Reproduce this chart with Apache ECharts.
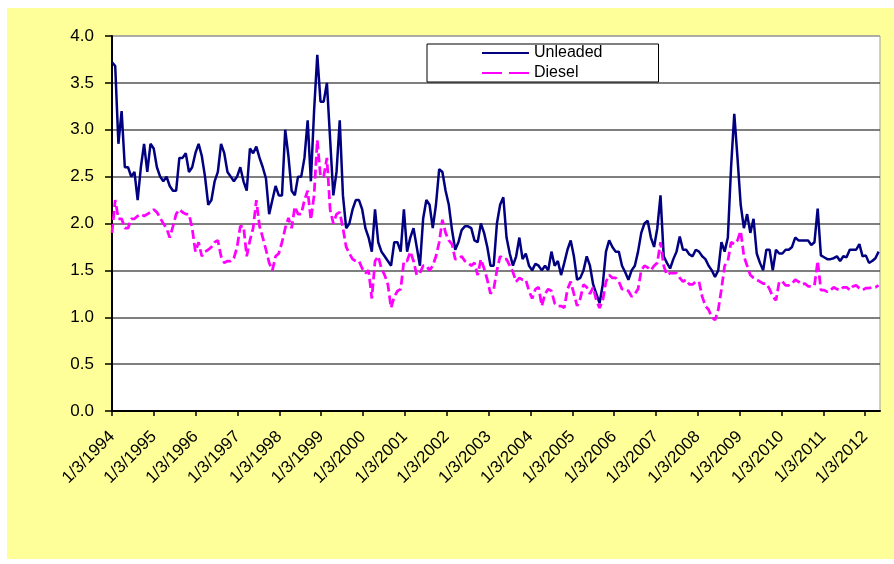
<!DOCTYPE html>
<html>
<head>
<meta charset="utf-8">
<title>Unleaded vs Diesel</title>
<script src="https://cdn.jsdelivr.net/npm/echarts@6/dist/echarts.min.js"></script>
<style>
  html, body { margin: 0; padding: 0; background: #ffffff; }
  #chart { position: absolute; left: 7px; top: 8px; width: 887px; height: 551px; }
</style>
</head>
<body>
<div id="chart"></div>
<script>
// Series start date and sampling step (days between readings)
const startDate = '1/3/1994';
const stepDays = 28;

// Year tick labels along the date axis
const tickLabels = ['1/3/1994','1/3/1995','1/3/1996','1/3/1997','1/3/1998','1/3/1999','1/3/2000',
  '1/3/2001','1/3/2002','1/3/2003','1/3/2004','1/3/2005','1/3/2006','1/3/2007','1/3/2008',
  '1/3/2009','1/3/2010','1/3/2011','1/3/2012'];
const axisEndDate = '5/12/2012';

const unleaded = [
  3.72,3.68,2.85,3.2,2.6,2.6,2.5,2.55,2.25,2.6,
  2.85,2.55,2.85,2.8,2.6,2.5,2.45,2.5,2.4,2.35,
  2.35,2.7,2.7,2.75,2.55,2.6,2.75,2.85,2.72,2.5,
  2.2,2.25,2.45,2.55,2.85,2.75,2.55,2.5,2.45,2.5,
  2.6,2.45,2.35,2.8,2.75,2.82,2.7,2.6,2.48,2.1,
  2.25,2.4,2.3,2.3,3.0,2.72,2.35,2.3,2.5,2.5,
  2.7,3.1,2.45,3.2,3.8,3.3,3.3,3.5,2.9,2.3,
  2.55,3.1,2.3,1.95,2.0,2.15,2.25,2.25,2.15,1.95,
  1.85,1.7,2.15,1.8,1.7,1.65,1.6,1.55,1.8,1.8,
  1.7,2.15,1.7,1.85,1.95,1.75,1.55,2.05,2.25,2.2,
  1.95,2.2,2.58,2.55,2.35,2.2,1.93,1.72,1.8,1.93,
  1.97,1.97,1.95,1.82,1.8,2.0,1.9,1.75,1.55,1.55,
  2.0,2.2,2.28,1.85,1.68,1.55,1.65,1.85,1.62,1.68,
  1.55,1.5,1.57,1.55,1.5,1.55,1.5,1.7,1.55,1.6,
  1.45,1.58,1.72,1.82,1.65,1.4,1.42,1.5,1.65,1.55,
  1.35,1.25,1.15,1.35,1.7,1.82,1.75,1.7,1.7,1.55,
  1.48,1.4,1.5,1.55,1.7,1.9,2.0,2.03,1.85,1.75,
  1.95,2.3,1.65,1.58,1.52,1.62,1.7,1.86,1.72,1.72,
  1.67,1.65,1.72,1.7,1.65,1.62,1.55,1.5,1.43,1.5,
  1.8,1.7,1.85,2.6,3.17,2.7,2.2,1.95,2.1,1.9,
  2.05,1.68,1.58,1.5,1.72,1.72,1.5,1.72,1.68,1.68,
  1.72,1.72,1.75,1.85,1.82,1.82,1.82,1.82,1.77,1.8,
  2.16,1.66,1.64,1.62,1.62,1.63,1.65,1.6,1.65,1.64,
  1.72,1.72,1.72,1.78,1.65,1.66,1.58,1.6,1.63,1.7
];

const diesel = [
  1.9,2.25,2.05,2.05,1.95,1.95,2.05,2.05,2.08,2.1,
  2.08,2.1,2.12,2.15,2.12,2.06,2.0,1.95,1.85,1.97,
  2.1,2.15,2.12,2.1,2.1,1.95,1.7,1.8,1.65,1.7,
  1.72,1.75,1.8,1.82,1.65,1.58,1.6,1.6,1.63,1.75,
  1.97,1.97,1.65,1.82,1.95,2.25,1.97,1.85,1.72,1.58,
  1.5,1.65,1.68,1.8,1.95,2.06,1.95,2.18,2.1,2.1,
  2.25,2.35,2.04,2.3,2.89,2.5,2.5,2.7,2.15,2.0,
  2.1,2.12,1.95,1.75,1.68,1.62,1.6,1.6,1.52,1.47,
  1.5,1.2,1.6,1.65,1.52,1.45,1.35,1.1,1.22,1.28,
  1.3,1.6,1.6,1.7,1.6,1.45,1.47,1.55,1.55,1.5,
  1.55,1.65,1.8,2.04,1.9,1.82,1.78,1.62,1.62,1.65,
  1.6,1.58,1.55,1.58,1.45,1.62,1.52,1.4,1.25,1.3,
  1.5,1.65,1.62,1.62,1.55,1.48,1.38,1.42,1.4,1.4,
  1.28,1.2,1.3,1.32,1.12,1.25,1.3,1.28,1.15,1.12,
  1.12,1.1,1.3,1.38,1.25,1.12,1.2,1.35,1.32,1.25,
  1.32,1.18,1.1,1.18,1.38,1.45,1.42,1.42,1.38,1.3,
  1.3,1.28,1.22,1.25,1.3,1.5,1.55,1.53,1.5,1.55,
  1.58,1.8,1.55,1.45,1.47,1.47,1.47,1.42,1.38,1.4,
  1.35,1.35,1.38,1.38,1.22,1.12,1.08,1.0,0.97,1.08,
  1.3,1.55,1.6,1.8,1.78,1.82,1.92,1.65,1.55,1.45,
  1.42,1.4,1.38,1.36,1.36,1.3,1.22,1.18,1.38,1.38,
  1.34,1.34,1.36,1.4,1.38,1.35,1.36,1.33,1.33,1.34,
  1.6,1.29,1.29,1.27,1.29,1.32,1.3,1.29,1.32,1.32,
  1.29,1.33,1.34,1.31,1.29,1.31,1.31,1.32,1.32,1.34
];

// Day offsets from the start date
function parseMDY(s) {
  const p = s.split('/').map(Number);
  return Date.UTC(p[2], p[0] - 1, p[1]);
}
const DAY = 86400000;
const t0 = parseMDY(startDate);
const dayOf = s => Math.round((parseMDY(s) - t0) / DAY);
const tickDays = tickLabels.map(dayOf);
const xMax = dayOf(axisEndDate);

const unleadedData = unleaded.map((v, i) => [i * stepDays, v]);
const dieselData = diesel.map((v, i) => [i * stepDays, v]);

const FONT = '"Liberation Sans", Arial, sans-serif';

// Horizontal gridlines: dark, except the top one which matches the plot border
const gridColors = ['#000', '#555', '#555', '#555', '#555', '#555', '#555', '#555', '#a0a0a0'];

const chart = echarts.init(document.getElementById('chart'), null, { renderer: 'canvas' });
chart.setOption({
  animation: false,
  backgroundColor: '#FFFF99',
  textStyle: { fontFamily: FONT },
  grid: {
    left: 105, top: 28, right: 14, bottom: 148,
    show: true, backgroundColor: '#ffffff', borderColor: '#a0a0a0', borderWidth: 1
  },
  legend: {
    left: 420, top: 36,
    orient: 'vertical',
    itemWidth: 47, itemHeight: 14, itemGap: 4,
    backgroundColor: '#ffffff', borderColor: '#000000', borderWidth: 1, borderRadius: 0,
    padding: [1, 56, 1, 54],
    itemStyle: { opacity: 0 },
    textStyle: { fontFamily: FONT, fontSize: 16, color: '#000' },
    data: [
      { name: 'Unleaded' },
      { name: 'Diesel', lineStyle: { type: [20, 7] } }
    ]
  },
  xAxis: {
    type: 'value',
    min: 0, max: xMax,
    axisLine: { show: true, onZero: false, lineStyle: { color: '#000', width: 2 } },
    axisTick: { show: true, length: 5, lineStyle: { color: '#000', width: 1.5 }, customValues: tickDays },
    axisLabel: {
      customValues: tickDays,
      rotate: 45, margin: 23,
      fontFamily: FONT, fontSize: 17, color: '#000',
      formatter: v => {
        const k = tickDays.findIndex(d => Math.abs(d - v) < 1);
        return k >= 0 ? tickLabels[k] : '';
      }
    },
    splitLine: { show: false }
  },
  yAxis: {
    type: 'value',
    min: 0, max: 4, interval: 0.5,
    axisLine: { show: true, lineStyle: { color: '#000', width: 2 } },
    axisTick: { show: true, length: 7, lineStyle: { color: '#000', width: 1.5 } },
    axisLabel: {
      margin: 18, fontFamily: FONT, fontSize: 17, color: '#000',
      formatter: v => v.toFixed(1)
    },
    splitLine: { show: true, lineStyle: { color: gridColors, width: 1.5 } }
  },
  series: [
    {
      name: 'Unleaded', type: 'line', data: unleadedData,
      symbol: 'none', showSymbol: false,
      color: '#000080',
      lineStyle: { color: '#000080', width: 2.5 }
    },
    {
      name: 'Diesel', type: 'line', data: dieselData,
      symbol: 'none', showSymbol: false,
      color: '#FF00FF',
      lineStyle: { color: '#FF00FF', width: 2.75, type: [9, 4] }
    }
  ]
});
</script>
</body>
</html>
